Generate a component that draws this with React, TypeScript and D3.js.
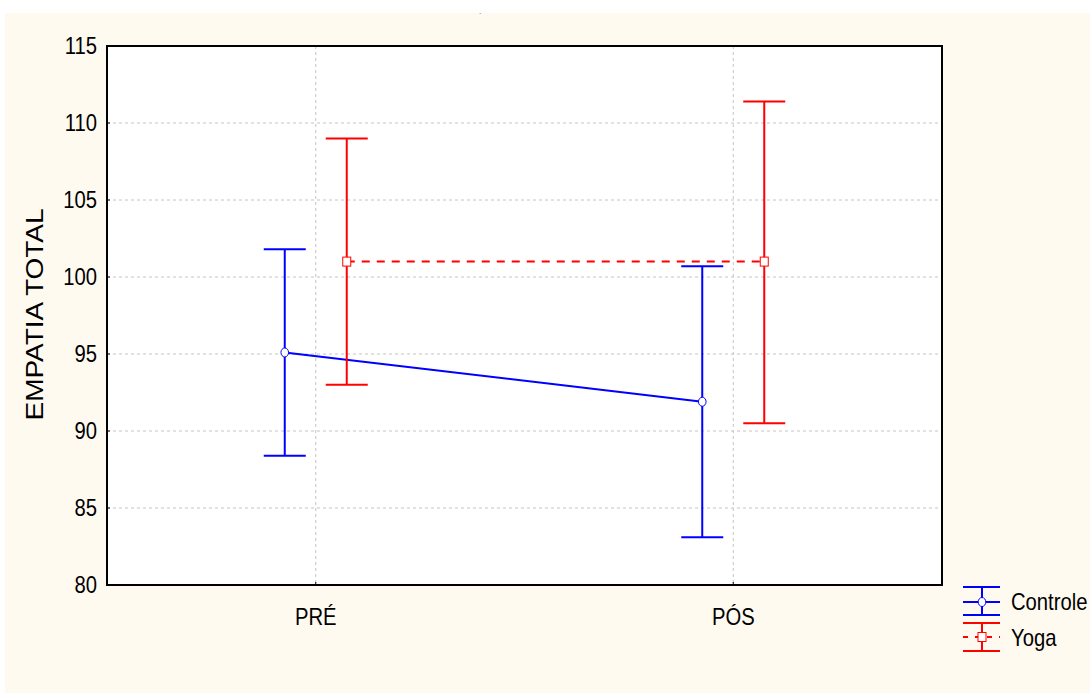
import React from "react";
import * as d3 from "d3";

const categories = ["PRÉ", "PÓS"];
const controleMean = [95.1, 91.9];
const controleUpper = [101.8, 100.7];
const controleLower = [88.4, 83.1];
const yogaMean = [101.0, 101.0];
const yogaUpper = [109.0, 111.4];
const yogaLower = [93.0, 90.5];
const yTicks = [80, 85, 90, 95, 100, 105, 110, 115];

const W = 1090;
const H = 693;
const M = { left: 107, top: 46, right: 942, bottom: 585 };
const FONT = "'Liberation Sans', Arial, sans-serif";
const SX = 0.88;

function T(props: { x: number; y: number; anchor?: string; size?: number; children: React.ReactNode }) {
  const { x, y, anchor = "start", size = 23, children } = props;
  return (
    <text transform={`translate(${x},${y}) scale(${SX},1)`} textAnchor={anchor} fontSize={size} fontFamily={FONT} fill="#000">
      {children}
    </text>
  );
}

export default function App() {
  const x = d3.scalePoint<string>().domain(categories).range([M.left, M.right]).padding(0.5);
  const y = d3.scaleLinear().domain([80, 115]).range([M.bottom, M.top]);
  const off = 31;
  const cap = 21;
  const series = [
    { name: "Controle", color: "#0000ff", mean: controleMean, up: controleUpper, lo: controleLower, dx: -off, dash: undefined as string | undefined, marker: "circle" },
    { name: "Yoga", color: "#ff0000", mean: yogaMean, up: yogaUpper, lo: yogaLower, dx: off, dash: "8,7", marker: "square" },
  ];

  return (
    <div style={{ position: "absolute", left: 0, top: 0 }}>
      <svg width={W} height={H} style={{ display: "block" }}>
        <rect x={0} y={0} width={W} height={H} fill="#ffffff" />
        <rect x={5} y={13} width={W - 5} height={H - 13} fill="#fffaf0" />
        <text x={479} y={14} fontSize={8} fill="#555" fontFamily={FONT}>.</text>
        <rect x={M.left} y={M.top} width={M.right - M.left} height={M.bottom - M.top} fill="#ffffff" />
        {yTicks.filter((t) => t > 80 && t < 115).map((t) => (
          <line key={"gy" + t} x1={M.left} x2={M.right} y1={y(t)} y2={y(t)} stroke="#c4c4c4" strokeWidth={1} strokeDasharray="3,3" />
        ))}
        {categories.map((c) => (
          <line key={"gx" + c} x1={x(c)} x2={x(c)} y1={M.top} y2={M.bottom} stroke="#c4c4c4" strokeWidth={1} strokeDasharray="3,3" />
        ))}
        {yTicks.map((t) => (
          <line key={"ty" + t} x1={M.left} x2={M.left + 3} y1={y(t)} y2={y(t)} stroke="#000" strokeWidth={1} />
        ))}
        {categories.map((c) => (
          <line key={"tx" + c} x1={x(c)} x2={x(c)} y1={M.bottom} y2={M.bottom - 3} stroke="#000" strokeWidth={1} />
        ))}
        {series.map((s) => {
          const xs = (i: number) => (x(categories[i]) as number) + s.dx;
          const path = d3.line<number>().x((_, i) => xs(i)).y((d) => y(d))(s.mean) || "";
          return (
            <g key={s.name}>
              <path d={path} fill="none" stroke={s.color} strokeWidth={2} strokeDasharray={s.dash} />
              {s.mean.map((m, i) => (
                <g key={i}>
                  <line x1={xs(i)} x2={xs(i)} y1={y(s.up[i])} y2={y(s.lo[i])} stroke={s.color} strokeWidth={2} />
                  <line x1={xs(i) - cap} x2={xs(i) + cap} y1={y(s.up[i])} y2={y(s.up[i])} stroke={s.color} strokeWidth={2} />
                  <line x1={xs(i) - cap} x2={xs(i) + cap} y1={y(s.lo[i])} y2={y(s.lo[i])} stroke={s.color} strokeWidth={2} />
                  {s.marker === "circle" ? (
                    <ellipse cx={xs(i)} cy={y(m)} rx={3.8} ry={4.5} fill="#fff" stroke={s.color} strokeWidth={1} />
                  ) : (
                    <rect x={xs(i) - 4} y={y(m) - 4.5} width={8} height={9} fill="#fff" stroke={s.color} strokeWidth={1} />
                  )}
                </g>
              ))}
            </g>
          );
        })}
        <rect x={M.left} y={M.top} width={M.right - M.left} height={M.bottom - M.top} fill="none" stroke="#000" strokeWidth={2} />
        {yTicks.map((t) => (
          <T key={"ly" + t} x={97} y={y(t) + 8} anchor="end">{t}</T>
        ))}
        {categories.map((c) => (
          <T key={"lx" + c} x={x(c) as number} y={625} anchor="middle">{c}</T>
        ))}
        <text transform={`translate(43,${(M.top + M.bottom) / 2 - 1}) rotate(-90)`} textAnchor="middle" fontSize={23} fontFamily={FONT} fill="#000" textLength={212} lengthAdjust="spacingAndGlyphs">EMPATIA TOTAL</text>
        <g>
          <line x1={963} x2={1000} y1={587} y2={587} stroke="#0000ff" strokeWidth={2} />
          <line x1={963} x2={1000} y1={602} y2={602} stroke="#0000ff" strokeWidth={2} />
          <line x1={963} x2={1000} y1={615} y2={615} stroke="#0000ff" strokeWidth={2} />
          <line x1={982} x2={982} y1={587} y2={615} stroke="#0000ff" strokeWidth={2} />
          <ellipse cx={982} cy={602} rx={3.8} ry={4.5} fill="#fff" stroke="#0000ff" strokeWidth={1} />
          <T x={1011} y={610}>Controle</T>
          <line x1={963} x2={1000} y1={623} y2={623} stroke="#ff0000" strokeWidth={2} />
          <line x1={963} x2={1000} y1={637} y2={637} stroke="#ff0000" strokeWidth={2} strokeDasharray="5,7" />
          <line x1={963} x2={1000} y1={651} y2={651} stroke="#ff0000" strokeWidth={2} />
          <line x1={982} x2={982} y1={623} y2={651} stroke="#ff0000" strokeWidth={2} />
          <rect x={978} y={632.5} width={8} height={9} fill="#fff" stroke="#ff0000" strokeWidth={1} />
          <T x={1011} y={646}>Yoga</T>
        </g>
      </svg>
    </div>
  );
}
